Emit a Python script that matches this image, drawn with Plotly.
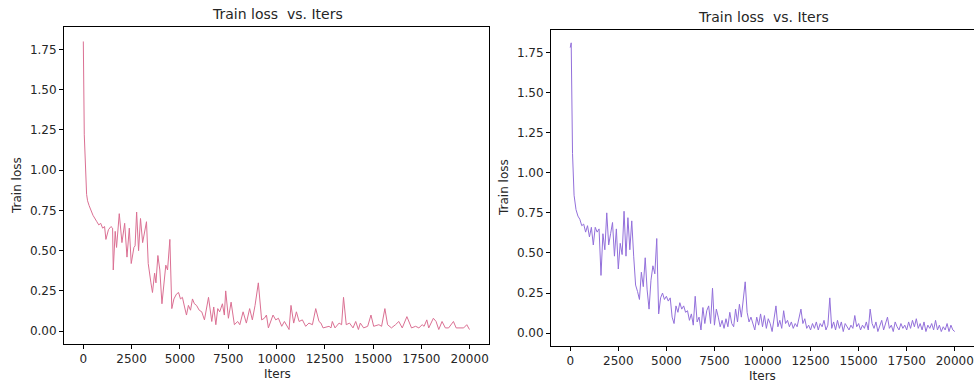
import plotly.graph_objects as go

# ---- Left panel data (pink) ----
iters_a = [0, 50, 170, 220, 300, 500, 700, 800, 900, 1000,
           1100, 1170, 1300, 1430, 1515, 1550, 1650, 1720, 1860, 2000,
           2140, 2260, 2380, 2480, 2620, 2680, 2760, 2860, 2960, 3070,
           3270, 3360, 3500, 3580, 3690, 3760, 3860, 3960, 4070, 4170,
           4270, 4360, 4480, 4580, 4690, 4820, 4930, 5030, 5130, 5240,
           5340, 5440, 5550, 5650, 5750, 5860, 6000, 6130, 6270, 6480,
           6650, 6750, 6860, 6960, 7060, 7200, 7300, 7370, 7510, 7650,
           7820, 7990, 8100, 8270, 8440, 8610, 8750, 8890, 9060, 9230,
           9370, 9480, 9580, 9820, 9960, 10100, 10270, 10410, 10650, 10750,
           10890, 11030, 11170, 11340, 11510, 11680, 11860, 12030, 12200, 12300,
           12410, 12720, 12820, 12890, 13030, 13240, 13370, 13470, 13610, 13780,
           13960, 14100, 14240, 14340, 14510, 14720, 14890, 15030, 15300, 15440,
           15610, 15750, 15950, 16160, 16330, 16510, 16750, 16990, 17200, 17370,
           17540, 17640, 17780, 17880, 18120, 18260, 18400, 18570, 18740, 18910,
           19160, 19300, 19690, 19850, 19990]
loss_a = [1.80, 1.22, 0.85, 0.81, 0.78, 0.72, 0.68, 0.66, 0.67, 0.64,
          0.65, 0.57, 0.63, 0.65, 0.64, 0.38, 0.62, 0.52, 0.73, 0.55,
          0.67, 0.46, 0.64, 0.42, 0.52, 0.53, 0.74, 0.50, 0.70, 0.55,
          0.68, 0.42, 0.30, 0.24, 0.36, 0.30, 0.47, 0.38, 0.17, 0.30,
          0.41, 0.38, 0.57, 0.14, 0.20, 0.23, 0.24, 0.20, 0.21, 0.15,
          0.10, 0.16, 0.13, 0.20, 0.17, 0.16, 0.13, 0.12, 0.07, 0.21,
          0.06, 0.15, 0.04, 0.14, 0.12, 0.17, 0.10, 0.25, 0.08, 0.18,
          0.04, 0.06, 0.04, 0.12, 0.05, 0.14, 0.07, 0.16, 0.30, 0.07,
          0.08, 0.10, 0.02, 0.10, 0.07, 0.08, 0.03, 0.06, 0.01, 0.16,
          0.05, 0.12, 0.06, 0.07, 0.03, 0.05, 0.04, 0.14, 0.06, 0.05,
          0.02, 0.03, 0.02, 0.06, 0.02, 0.05, 0.04, 0.21, 0.04, 0.05,
          0.02, 0.06, 0.01, 0.05, 0.02, 0.03, 0.10, 0.03, 0.04, 0.03,
          0.14, 0.04, 0.02, 0.04, 0.06, 0.02, 0.09, 0.02, 0.03, 0.02,
          0.04, 0.03, 0.07, 0.02, 0.08, 0.06, 0.01, 0.06, 0.02, 0.02,
          0.06, 0.02, 0.02, 0.04, 0.01]

# ---- Right panel data (purple) ----
iters_b = [0, 50, 120] + list(range(200, 20001, 100))
loss_b = [1.78, 1.81, 1.12,
          0.86, 0.77, 0.73, 0.71, 0.67, 0.68, 0.63, 0.67,
          0.60, 0.66, 0.55, 0.66, 0.63, 0.65, 0.36, 0.62, 0.52, 0.75,
          0.55, 0.62, 0.69, 0.48, 0.65, 0.40, 0.56, 0.49, 0.76, 0.48,
          0.72, 0.52, 0.70, 0.48, 0.30, 0.26, 0.21, 0.38, 0.29, 0.47,
          0.27, 0.15, 0.33, 0.42, 0.37, 0.59, 0.12, 0.22, 0.25, 0.21,
          0.23, 0.20, 0.22, 0.10, 0.06, 0.17, 0.13, 0.19, 0.15, 0.17,
          0.13, 0.14, 0.08, 0.12, 0.05, 0.23, 0.07, 0.10, 0.02, 0.16,
          0.06, 0.14, 0.17, 0.06, 0.28, 0.05, 0.15, 0.10, 0.04, 0.08,
          0.03, 0.09, 0.04, 0.13, 0.06, 0.04, 0.15, 0.07, 0.18, 0.10,
          0.20, 0.32, 0.13, 0.07, 0.10, 0.06, 0.02, 0.10, 0.05, 0.12,
          0.04, 0.11, 0.03, 0.09, 0.06, 0.01, 0.10, 0.17, 0.04, 0.08,
          0.03, 0.14, 0.06, 0.08, 0.04, 0.07, 0.03, 0.06, 0.04, 0.09,
          0.15, 0.06, 0.09, 0.03, 0.05, 0.02, 0.06, 0.03, 0.07, 0.02,
          0.06, 0.04, 0.08, 0.02, 0.05, 0.22, 0.03, 0.07, 0.02, 0.08,
          0.03, 0.07, 0.01, 0.06, 0.04, 0.02, 0.05, 0.03, 0.11, 0.04,
          0.06, 0.02, 0.05, 0.03, 0.07, 0.02, 0.15, 0.06, 0.03, 0.07,
          0.01, 0.05, 0.08, 0.02, 0.06, 0.10, 0.03, 0.05, 0.01, 0.07,
          0.04, 0.02, 0.06, 0.03, 0.05, 0.02, 0.07, 0.03, 0.08, 0.04,
          0.09, 0.03, 0.06, 0.02, 0.07, 0.01, 0.05, 0.03, 0.06, 0.02,
          0.08, 0.02, 0.05, 0.01, 0.04, 0.02, 0.06, 0.01, 0.05, 0.02,
          0.01]

x_ticks = [0, 2500, 5000, 7500, 10000, 12500, 15000, 17500, 20000]
x_ticklabels = ["0", "2500", "5000", "7500", "10000", "12500", "15000", "17500", "20000"]
y_ticks = [0.0, 0.25, 0.5, 0.75, 1.0, 1.25, 1.5, 1.75]
y_ticklabels = ["0.00", "0.25", "0.50", "0.75", "1.00", "1.25", "1.50", "1.75"]
title_text = "Train loss  vs. Iters"
x_label = "Iters"
y_label = "Train loss"

W, H = 974, 383
FONT = "DejaVu Sans"
TXT = "#262626"

fig = go.Figure()
fig.add_trace(go.Scatter(x=iters_a, y=loss_a, mode="lines",
                         line=dict(color="#DB7093", width=1),
                         xaxis="x", yaxis="y", showlegend=False))
fig.add_trace(go.Scatter(x=iters_b, y=loss_b, mode="lines",
                         line=dict(color="#9370DB", width=1),
                         xaxis="x2", yaxis="y2", showlegend=False))

def xax(dom, anchor):
    return dict(domain=dom, anchor=anchor, range=[-1000, 21000],
                tickvals=x_ticks, ticktext=x_ticklabels,
                ticks="outside", ticklen=4, tickcolor="black",
                ticklabeloverflow="allow",
                showline=True, linecolor="black", linewidth=1, mirror=True,
                showgrid=False, zeroline=False,
                tickfont=dict(family=FONT, size=12, color=TXT))

def yax(dom, anchor):
    return dict(domain=dom, anchor=anchor, range=[-0.08, 1.89],
                tickvals=y_ticks, ticktext=y_ticklabels,
                ticks="outside", ticklen=4, tickcolor="black",
                showline=True, linecolor="black", linewidth=1, mirror=True,
                showgrid=False, zeroline=False,
                tickfont=dict(family=FONT, size=12, color=TXT))

L = (64 / W, 489 / W)
Ly = (1 - 344 / H, 1 - 27 / H)
R = (551 / W, 1.0)
Ry = (1 - 346 / H, 1 - 30 / H)

fig.update_layout(
    width=W, height=H,
    margin=dict(l=0, r=0, t=0, b=0),
    paper_bgcolor="white", plot_bgcolor="white",
    xaxis=xax(L, "y"), yaxis=yax(Ly, "x"),
    xaxis2=xax(R, "y2"), yaxis2=yax(Ry, "x2"),
)

def ann(text, x, y, size, angle=0):
    fig.add_annotation(text=text, x=x / W, y=1 - y / H, xref="paper", yref="paper",
                       showarrow=False, textangle=angle, xanchor="center",
                       yanchor="middle",
                       font=dict(family=FONT, size=size, color=TXT))

ann(title_text, 277, 14, 14)
ann(title_text, 763, 17, 14)
ann(x_label, 277, 374, 12)
ann(x_label, 762, 376, 12)
ann(y_label, 17, 186, 12, -90)
ann(y_label, 504, 188, 12, -90)

fig.write_html("out.html", config={"displayModeBar": False})

# remove the default page margin so the figure sits at the window's top-left
with open("out.html", "r", encoding="utf-8") as f:
    html = f.read()
html = html.replace("<head>", "<head><style>html,body{margin:0;padding:0;overflow:hidden;}</style>", 1)
with open("out.html", "w", encoding="utf-8") as f:
    f.write(html)
